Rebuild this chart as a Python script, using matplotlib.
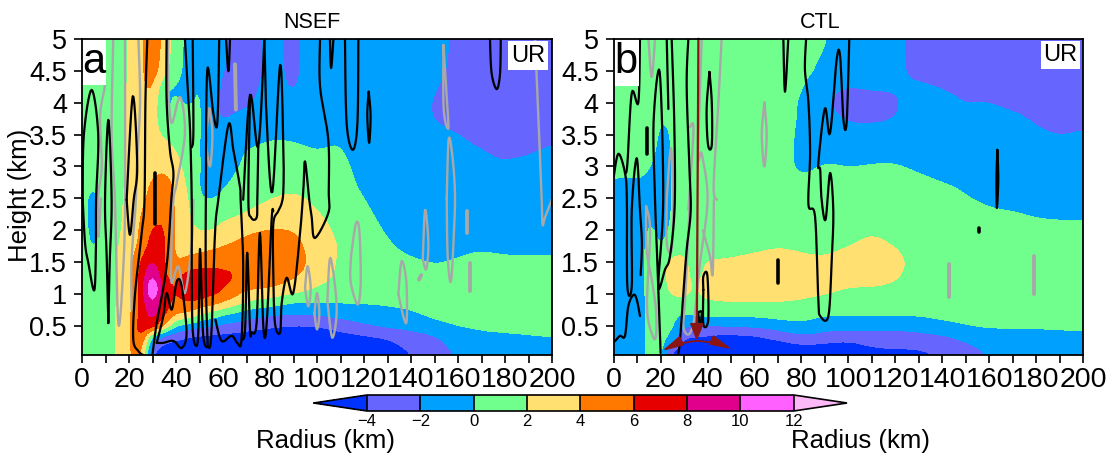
import numpy as np
import matplotlib
matplotlib.use("Agg")
import matplotlib.pyplot as plt
from matplotlib.patches import Rectangle

plt.rcParams["font.family"] = ["Liberation Sans", "DejaVu Sans"]

W, H = 1117, 457

levels = [-4, -2, 0, 2, 4, 6, 8, 10, 12]
band_colors = ["#0033ff", "#6666ff", "#00a0ff", "#70ff8c", "#ffe070", "#ff7800",
               "#e60000", "#e0008c", "#ff60ff", "#fdb8f8"]

heights = [0.05, 0.2, 0.35, 0.5, 0.7, 0.9, 1.1, 1.3, 1.5, 1.75, 2, 2.25, 2.5, 2.75, 3, 3.25,
           3.5, 3.75, 4, 4.25, 4.5, 5]

radius_a = [0, 5, 10, 15, 20, 25, 30, 35, 40, 45, 50, 55, 60, 70, 80, 90, 100, 110, 120, 130,
            140, 150, 160, 170, 180, 200]
ur_a = [
    [1, 1, 1.4, 2, 3.8, 5, -4.5, -5.5, -6, -6, -6, -6, -6, -6, -6.5, -6.5, -6.5, -6, -5.5, -5, -4.1, -2.8, -1.8, -1.4, -1.2, -1],
    [1, 1, 1.4, 2, 3.6, 6, -3, -4.3, -4.8, -5, -5.2, -5.2, -5.5, -5.5, -6, -6, -5.5, -5.3, -4.9, -4.5, -3.6, -2.4, -1.6, -1.1, -1, -.7],
    [1, 1, 1.4, 2, 3.4, 7, -.5, -2.5, -3.2, -3.9, -4.2, -4.3, -4.4, -4.8, -5.2, -5.2, -5, -4.6, -4.2, -3.8, -3, -2.1, -1.4, -.4, -.3, .2],
    [1, 1, 1.4, 2, 3.3, 7.5, 7.5, 3.9, -.5, -1, -1.6, -2.2, -2.5, -3.2, -3.8, -4.3, -4.2, -3.3, -2.3, -1.7, -1.2, -.6, .1, .4, .5, .6],
    [1, 1, 1.4, 2, 3.3, 6.5, 9, 6.5, 4.3, 4, 2.2, 1.3, .4, -1, -1.7, -1.9, -1.7, -1.1, -.9, -.6, -.3, .5, .7, .8, .8, .9],
    [1, 1, 1.4, 2, 3.2, 6.5, 11, 6.5, 5.8, 6.4, 6.3, 5.4, 4.8, 2, 1.5, .2, .2, .3, .3, .4, .7, 1, 1, 1, 1, 1],
    [1, 1, 1.4, 2, 3.2, 6.3, 13.5, 6.6, 5.8, 7, 7, 7, 6.3, 4.3, 4.2, 3.2, 1.8, 1.2, 1, 1, 1, 1, 1, 1, 1, 1],
    [1, 1, 1.4, 2, 3.2, 6.5, 10.5, 5.8, 5.5, 6.8, 7, 7.2, 6.7, 5.5, 5, 4.4, 3, 1.5, 1, 1, .9, .4, .8, 1, 1, 1],
    [1, 1, 1.4, 2, 3.1, 6.3, 8.5, 6, 3.9, 4.6, 5, 5, 5.2, 5.4, 5.6, 5, 3.2, 1.6, 1, 1, .4, -.1, .2, .4, .3, .3],
    [1, -.5, 1.2, 1.9, 2.6, 4.5, 7, 6.6, 3.2, 3, 3.3, 3.7, 4, 4.8, 5.2, 4.6, 3.2, 1.8, .9, .3, -.8, -1, -.4, -.1, -.4, -.4],
    [.8, -.8, 1, 1.8, 2.4, 4.3, 6.4, 6.2, 3.5, 2.5, 1.8, 1.8, 2.4, 3.7, 4.1, 4.1, 2.9, 1.4, .7, -.2, -1, -1, -1, -1, -1, -1],
    [.8, -1, 1, 1.7, 2.3, 4, 5, 6.1, 3.8, 2.1, 1.2, 1.2, 1.5, 2, 3, 3, 2.1, 1.2, .4, -.6, -1, -1, -1, -1, -1, -1],
    [.8, -1, 1, 1.7, 2.3, 3.7, 4.3, 5.1, 3.5, 2.2, -.1, -.2, .2, 1.3, 1.9, 2.4, 1.6, 1.1, 0, -1, -1, -1, -1, -1, -1, -1],
    [.9, .4, 1, 1.6, 2.2, 3.6, 4.1, 4.8, 3.6, 1.5, -.2, -.7, -.4, .9, 1.3, 1.5, 1.2, .9, -.6, -1, -1, -1, -1, -1, -1, -1],
    [1, 1, 1, 1.6, 2.2, 3.3, 3.5, 3.6, 2.6, 1.2, .1, -1, -.8, .3, .9, .9, .7, .6, -.8, -1, -1, -1.2, -1.3, -1.5, -1.9, -1.4],
    [1, 1, 1, 1.6, 2.2, 3.1, 3.3, 3.3, 2, 1, 0, -1, -1, .2, .5, .4, -.1, .3, -1.2, -1.1, -1.2, -1.4, -1.7, -1.9, -2.5, -1.8],
    [1, 1, 1, 1.5, 2.2, 3, 3, 1.5, .4, 1, .1, -1.1, -1.3, -1, -.2, -.3, -.6, -.1, -1, -1, -1.2, -1.6, -1.9, -2.5, -3, -2],
    [1, 1, 1, 1.5, 2.2, 3.2, 3.4, -.2, .2, 1, .3, -1.5, -2.3, -1.4, -1, -1, -1, -1, -1, -1, -1.4, -2.1, -2.6, -3, -3, -2.6],
    [1, 1, 1, 1.5, 2.1, 3.4, 3.6, -.5, .4, -.4, .3, -1.3, -2.5, -2.4, -1.2, -1.9, -1.1, -1, -1, -1, -1.4, -2.1, -2.8, -3, -3, -3],
    [1, 1, 1, 1.5, 2, 3.6, 4.6, -.2, -.2, -.6, .3, -1.2, -2.3, -2.8, -1.3, -2.4, -1.1, -1, -1, -1, -1.3, -1.9, -2.6, -3, -3, -3],
    [1, 1, 1, 1.5, 2, 3.6, 5.2, 3, .6, -.6, .3, -1.2, -1.9, -3, -1.4, -2.5, -1, -1, -1, -1, -1.2, -1.6, -2.4, -3, -3, -3],
    [1, 1, 1, 1.5, 2, 3.6, 5.4, 3.5, .8, -.6, .3, -1.3, -1.6, -3, -1.4, -2.6, -1, -1, -1, -1, -1.2, -1.6, -2.2, -3, -3, -3],
]

radius_b = [0, 5, 10, 15, 20, 25, 30, 35, 40, 45, 50, 60, 70, 80, 90, 100, 110, 120, 130, 140,
            150, 160, 170, 180, 190, 200]
ur_b = [
    [-.5, -1, -1.5, .8, .8, -5.2, -5.5, -5.5, -5.5, -5.5, -5.5, -5.5, -5.5, -5.5, -5.5, -5.5, -5, -4.7, -4.5, -3.9, -2.6, -1.9, -1.3, -1.2, -1.2, -1.2],
    [-.5, -1, -1.5, .8, 1, -2.5, -4.9, -5, -5, -5, -5.3, -5.3, -5, -4.2, -4.4, -4.6, -3.7, -3.6, -3.7, -3.1, -2.3, -1.6, -1, -1, -1, -1],
    [-.5, -1, -1.5, .8, .9, -.5, -3.9, -3.9, -4.1, -4.4, -4.5, -4.2, -3.2, -2, -2.8, -3.3, -3.1, -3, -2.6, -2.2, -1.4, -.7, -.5, -.6, -.3, -.3],
    [-.5, -1, -1.5, .8, .9, .4, -2, -2.1, -2.3, -2.3, -1.8, -1.9, -1.2, -.5, -1.2, -1.2, -1.2, -1.3, -1.1, -.6, -.1, .2, .1, .2, .2, .2],
    [-.5, -1, -1.5, .8, .9, .4, 0, .6, .8, .8, .7, .7, 1, 1, .2, .3, .3, .3, .3, .6, .8, .9, .8, .8, .9, .9],
    [-.5, -1, -1.5, .8, 1, 1.6, 1.8, 1.4, 1.6, 1.8, 2.1, 2.2, 2.1, 1.9, 1.5, 1.2, 1.1, 1, 1, 1, 1, 1, 1, 1, 1, 1],
    [-.5, -1, -1.5, .9, 1.1, 2.6, 2.8, 1.6, 3.8, 4.6, 3.1, 3.1, 3, 2.8, 2.5, 1.9, 1.9, 1.7, 1, 1, 1, 1, 1, 1, 1, 1],
    [-.5, -1, -1.5, 1, 1.1, 3, 2.6, 1.2, 2.5, 3, 3.1, 3.1, 3, 3, 3, 2.8, 2.9, 2.3, 1.2, 1, 1, 1, 1, 1, 1, 1],
    [-.5, -1, -1.5, 1, 1, 2.8, 2.2, 1.5, 2.1, 2.1, 2.1, 2.4, 2.5, 2.3, 2.2, 2.6, 2.9, 2.5, 1.4, 1, 1, 1, 1, 1, 1, 1],
    [-.5, -1, -1.5, .9, -.3, .9, 1.8, 1.3, 1.4, 1.5, 1.6, 1.7, 2, 1.8, 1.6, 2, 2.4, 2, 1.3, 1.2, 1.1, 1.1, 1, 1, 1, 1],
    [-.5, -1, -1.5, .5, -.5, .2, 1.2, 1.1, 1, 1, 1, 1.2, 1.3, 1.2, 1.1, 1.3, 2, 1.4, 1, 1, 1, 1, 1, .9, .8, .7],
    [-.5, -1, -1.3, -.3, -.7, .1, 1, 1, 1, 1, 1, 1, 1, 1, 1, 1, 1, 1, 1, 1, 1, .4, .3, -.3, -.5, -.5],
    [-.5, -1, -.8, -.5, -.8, 0, 1, 1, 1, 1, 1, 1, 1, 1, 1, 1, 1, 1, 1, .9, .1, -.5, -1, -1, -1, -1],
    [-.3, -.7, -.3, -.6, -.8, 0, 1, 1, 1, 1, 1, 1, 1, .1, .8, .7, .8, .9, .6, 0, -.4, -1, -1, -1, -1, -1],
    [1, 1, 1, .1, -.7, 0, 1, 1, 1, 1, 1, 1, .8, -.5, .2, -.1, .1, .2, -.4, -1, -1, -1, -1, -1, -1, -1],
    [1, 1, 1, .6, -.5, 0, 1, 1, 1, 1, 1, 1, 1, -.6, -.5, -.6, -.6, -.6, -1, -1, -1, -1, -1, -1, -1, -1],
    [1, 1, 1, .9, -.4, .1, 1, 1, 1, 1, 1, 1, 1, -.5, -1, -1.2, -1.4, -1.4, -1, -1, -1, -1.2, -1.3, -1.8, -2.2, -1.9],
    [1, 1, 1, 1, 0, .2, 1, 1, 1, 1, 1, 1, 1, -.3, -1.2, -2.4, -2.3, -2.1, -1.2, -1.3, -1.6, -1.6, -1.6, -2.2, -2.4, -2.3],
    [1, 1, 1, 1, .6, .4, 1, 1, 1, 1, 1, 1, 1, -.2, -2, -2.8, -2.6, -2.2, -1.4, -1.5, -2.1, -1.9, -2.4, -2.8, -3, -3],
    [1, 1, 1, 1, 1, 1, 1, 1, 1, 1, 1, 1, 1, .2, -1.5, -2.1, -1.8, -1.9, -1.8, -2.1, -2.4, -2.5, -3, -3, -3, -3],
    [1, 1, 1, 1, 1, 1, 1, 1, 1, 1, 1, 1, 1, .6, -.6, -1, -1, -1.7, -2.4, -2.5, -3, -3, -3, -3, -3, -3],
    [1, 1, 1, 1, 1, 1, 1, 1, 1, 1, 1, 1, 1, 1, .2, -.8, -1, -1.7, -2.5, -3, -3, -3, -3, -3, -3, -3],
]

# traced contours, (radius, height)
black_a = [
    [(.3, 2.48), (1.3, 1.8), (2.7, 1.49), (5.2, 1.06), (5.9, 1.7), (6, 2.48), (6.9, 3.5), (4.1, 4.2), (.8, 3.5), (.3, 2.48)],
    [(11.2, .55), (10.5, 1.6), (9.8, 2.48), (11.2, 3.73), (12.6, 2.48), (11.8, 1.5), (11.2, .55)],
    [(19, 2.48), (21.6, 4.1), (23.5, 3), (22, 2.48), (20.4, 1.93), (19, 2.48)],
    [(27.8, 5), (27, 4.04), (26.6, 2.48), (25.4, 1.96), (22.6, 1.02), (21.8, .3), (24, .11), (26, .05)],
    [(36, 5), (36, 4.04), (37.4, 3.26), (38.9, 2.9), (38, 2.48), (36, 1.44), (31.8, .55), (30, .06)],
    [(31.8, .24), (34.6, .24), (38.9, .27), (42.4, .16), (44.5, .4), (42.4, 1.13), (40.3, 1.2), (38.2, .76), (36, 1.02), (34.6, .66), (31.8, .24)],
    [(43.8, 5), (45, 4.2), (46, 3.55), (46.7, 2.48), (46.7, 1.44), (47, .5), (48.3, .2), (49.5, .4), (50.2, 1.71), (51.2, .6), (52, .25), (53.5, .18), (55, .35), (56.6, 1.96), (58, 2.48), (62.3, 3.65), (64.4, 3.26), (67.2, 2.69), (67.5, 2.48), (68.6, 1.44), (67.9, .29), (66.1, .24), (63.7, .35), (59.4, .27), (56.8, .6)],
    [(47.1, 5), (47.4, 3.55), (46.7, 3.3)],
    [(53.5, .18), (52.7, 1.2), (52.7, 2.48), (53.3, 4.51), (55.9, 3.83), (57.6, 3.69), (58.4, 5)],
    [(61.3, 5), (62.3, 4.49), (63, 5)],
    [(68.6, 2.48), (71.5, 4.12), (75, 3.31), (77.6, 5)],
    [(71.5, 4.12), (70.8, 2.48), (72, 2.2), (74.3, 2.2), (74.6, 2.48), (75, 3.31)],
    [(77.6, 5), (78.5, 3.8), (81, 2.6), (84.3, 4.59), (85.7, 3.26), (85.7, 2.64), (85, 2.43), (83.5, 2.3), (81.4, 2.1), (81.4, 1.33), (82.1, .55), (84.3, .4), (85, .87), (87.1, 1.26), (89.9, 1.02), (92.8, 1.96), (94.2, 2.64), (94.9, 3.08), (96.7, 2.48), (97.7, 2.22), (99.1, 1.88), (104.8, 2.27), (105, 2.6), (104.8, 3.42), (101.3, 4.25), (101.3, 5)],
    [(67.9, .29), (69.4, .45), (70.3, 1.65), (71.5, .45), (72.2, .4), (74.3, .55), (75.7, 1.96), (77.2, .47), (78.6, .55), (80.7, 2.17), (81.4, 2.3)],
    [(105.5, 5), (106, 4.54), (107, 5)],
    [(111.9, 5), (112.6, 3.68), (115.2, 3.26), (117.2, 3.68), (117.6, 5)],
    [(122, 4.17), (121.4, 3.8), (122.2, 3.37), (122.8, 3.8), (122, 4.17)],
    [(173.6, 5), (174.3, 4.46), (176.5, 4.21), (177.9, 4.46), (178.2, 5)],
]
thick_a = [[(31, 2.9), (31, 2.1)]]
gray_a = [
    [(7.6, 5), (8.2, 4.6), (9.8, 4.3), (7.7, 3.8), (8.4, 3), (6.8, 2.5), (7, 1.9), (8, 2.5)],
    [(13.3, 5), (12.6, 3.5), (14, 2.48), (15.5, .53), (17.6, 1.44), (18.3, 2.48), (18.3, 5)],
    [(24, 5), (24.7, 4), (23.3, 3), (22.8, 2.4), (21.1, 1.54), (21.1, .76)],
    [(36.7, 5), (36.7, 4.3), (38.1, 3.68), (41.7, 4.09), (43.8, 3.52), (40.3, 2.74), (38.9, 2.48), (38.1, 1.8), (38.1, 1.18), (41, 1.44), (43.8, 1.02), (46.7, 1.8), (47.4, 2.48)],
    [(54.2, 3.91), (52.8, 3.42), (54.5, 3), (55.5, 3.52), (54.2, 3.91)],
    [(94.9, 1.1), (96, 1.44), (97.3, 1.1), (96.3, .81), (94.9, 1.1)],
    [(98.9, .7), (100, 1.02), (101, .7), (100, .45), (98.9, .7)],
    [(104.4, .9), (105.7, 1.57), (108.4, .8), (106.5, .32), (104.4, .9)],
    [(114.5, 1.6), (116.5, 2.1), (118, 2), (118.6, 1.2), (117.3, .84), (114.3, 1.2), (114.5, 1.6)],
    [(134.6, 1), (136, 1.52), (138, 1.2), (138.2, .6), (137, .62), (134.6, 1)],
    [(145, 1.55), (146, 2.32), (147.4, 1.8), (146.5, 1.39), (145, 1.55)],
    [(155.2, 2.5), (155.6, 1.6), (157, 1.2), (158.3, 2), (158.7, 2.6), (157.5, 3.2), (156, 3.42), (155.2, 2.5)],
    [(153.8, 4.9), (155, 4.2), (155.9, 3.6), (153.9, 3.9), (153.8, 4.9)],
    [(192.8, 5), (194.5, 3.5), (195.6, 2.48), (196, 2.09), (197, 2.2), (199.9, 2.48)],
]
gray_thick_a = [[(65.1, 4.6), (65.5, 3.89)], [(143.4, 1.23), (144.3, 1.3)], [(164, 2.3), (164, 1.96)], [(165.2, 1.49), (165.2, 1.05)]]

black_b = [
    [(0, 2.84), (2, 3.2), (4.8, 2.9), (5.6, 2.48), (5.8, 1.13), (7.7, 1.13), (7.7, 2.32), (9.8, 3.13), (11.2, 2.32), (12, 1.8), (11.5, 1.3)],
    [(4.8, 2.9), (5.8, 3.03), (7.7, 4.15), (10.5, 4), (11.2, 5)],
    [(0, .27), (.6, .27), (2.7, .35), (4.8, .35), (6.2, .81), (8.4, .99), (9.8, .92), (11.2, .66)],
    [(24.7, 5), (25.8, 3.7), (26, 2.4), (24, 1.6), (21.9, 1.39), (19, 1.13), (21.1, 2.48), (19.6, 4.48), (17, 3.7), (17.6, 2.5), (18.6, 1.5), (20, .08)],
    [(22.6, 5), (23.3, 3.9)],
    [(31.8, 5), (31.1, 4.25), (32.3, 2.95), (32.8, 2.3), (31.1, 1.7), (29.7, 1.02), (28.3, .3), (27.6, .08)],
    [(40.8, 4.48), (39.6, 3.9), (40.2, 3.34), (41.8, 3.34), (41.8, 4), (40.8, 4.48)],
    [(38.2, 1.07), (38.2, .53), (40.3, .6), (39.9, 1.3), (38.2, 1.28), (38.2, 1.07)],
    [(36, .72), (37.5, .72), (36.8, .52), (36, .72)],
    [(72.3, 5), (73, 4.17), (74.4, 5)],
    [(82, 5), (81.5, 4.51), (83, 4), (83.7, 3.2), (83, 2.4), (85.8, 2.22), (87.2, .92), (88, .66), (91.5, .66), (92.9, 1.54), (93.6, 2.3), (92.2, 2.9), (90.3, 2.17), (88.6, 2.48), (88, 2.95), (87.2, 3.05), (90, 3.91), (92.2, 3.52), (95, 4.67), (96.5, 4.72), (97.9, 3.73), (99.3, 3.7), (100.4, 5)],
    [(163.5, 3.26), (163.1, 2.8), (163.3, 2.35), (163.9, 2.8), (163.5, 3.26)],
]
thick_b = [[(14, 3.6), (14, 3.2)], [(70.2, 1.54), (70.2, 1.18)], [(155.5, 2.03), (155.5, 1.97)]]
gray_b = [
    [(14.8, 5), (16.2, 4.4), (17.6, 5)],
    [(13.8, 2.38), (15.5, 2), (14.2, .8), (16.6, .35), (18, .35), (18, .76), (16.2, 1.23), (14, 1.7), (13.8, 2.38)],
    [(22.6, 2.48), (22.6, 1.8), (24.7, 1.7), (25.4, 2.48), (24.7, 3.2), (24, 3.2), (22.6, 2.5)],
    [(32.5, 2.48), (30.4, .92), (29.7, .5), (31.8, .37), (34, .55), (35.4, 1), (36.8, 1.5), (40, 2.48), (37.5, 3.2), (36, 3.2), (37.5, 5)],
    [(42.7, 2.48), (42.2, 1.33), (41, 1.6), (38, 2)],
    [(44, 2.48), (42.6, 2.7), (44.6, 4), (46, 5)],
    [(32.5, 3.62), (34, 3.57), (31.8, 2.32)],
    [(64.2, 4), (63.1, 3.5), (64.2, 3), (65.2, 3.5), (64.2, 4)],
]
gray_thick_b = [[(143, 1.47), (143, .96)], [(179, 1.6), (179, 1)]]

vector_tail = (36.1, 5)
vector_center = (35.4, .27)
vector_left = (20.5, .11)
vector_right = (50.3, .14)

x_ticks = list(range(0, 201, 10))
x_labels = [str(t) if t % 20 == 0 else "" for t in x_ticks]
y_ticks = [.5, 1, 1.5, 2, 2.5, 3, 3.5, 4, 4.5, 5]
y_labels = ["0.5", "1", "1.5", "2", "2.5", "3", "3.5", "4", "4.5", "5"]


def smooth(points, steps=8):
    # catmull-rom through the traced points so peaks stay where they were read
    pts = np.array(points, dtype=float)
    if len(pts) < 3:
        return pts
    p = np.vstack([pts[0], pts, pts[-1]])
    out = [pts[0]]
    for i in range(1, len(p) - 2):
        for t in np.linspace(0, 1, steps + 1)[1:]:
            out.append(0.5 * (2 * p[i] + (p[i + 1] - p[i - 1]) * t
                              + (2 * p[i - 1] - 5 * p[i] + 4 * p[i + 1] - p[i + 2]) * t ** 2
                              + (3 * p[i] - p[i - 1] - 3 * p[i + 1] + p[i + 2]) * t ** 3))
    return np.array(out)


def refine(radius, values, factor=4, passes=4):
    # finer grid with a light 1-2-1 filter, the source field has no sharp grid corners
    values = np.array(values, dtype=float)
    ny, nx = values.shape
    ix = np.linspace(0, nx - 1, (nx - 1) * factor + 1)
    iy = np.linspace(0, ny - 1, (ny - 1) * factor + 1)
    fine = np.array([np.interp(ix, np.arange(nx), row) for row in values])
    fine = np.array([np.interp(iy, np.arange(ny), col) for col in fine.T]).T
    for _ in range(passes):
        pad = np.pad(fine, 1, mode="edge")
        fine = (pad[:-2, 1:-1] + 2 * pad[1:-1, 1:-1] + pad[2:, 1:-1]) / 4
        pad = np.pad(fine, 1, mode="edge")
        fine = (pad[1:-1, :-2] + 2 * pad[1:-1, 1:-1] + pad[1:-1, 2:]) / 4
    return np.interp(ix, np.arange(nx), radius), np.interp(iy, np.arange(ny), heights), fine


def axes_box(left, top, right, bottom):
    return [left / W, 1 - bottom / H, (right - left) / W, (bottom - top) / H]


def draw_lines(ax, lines, color, lw):
    for line in lines:
        pts = smooth(line)
        ax.plot(pts[:, 0], pts[:, 1], color=color, lw=lw, solid_joinstyle="round",
                solid_capstyle="round", zorder=3)


def draw_panel(box, radius, values, black, thick, gray, gray_thick, letter_box, ur_box):
    ax = fig.add_axes(axes_box(*box))
    xf, yf, vf = refine(radius, values)
    cf = ax.contourf(xf, yf, vf, levels=levels, colors=band_colors, extend="both")
    draw_lines(ax, gray, "#a8a8a8", 1.7)
    draw_lines(ax, gray_thick, "#a8a8a8", 2.8)
    draw_lines(ax, black, "black", 1.6)
    draw_lines(ax, thick, "black", 2.6)
    ax.set_xlim(0, 200)
    ax.set_ylim(0.05, 5)
    ax.set_xticks(x_ticks)
    ax.set_xticklabels(x_labels, fontsize=20.5)
    ax.set_yticks(y_ticks)
    ax.set_yticklabels(y_labels, fontsize=19.5)
    ax.tick_params(axis="both", length=5.8, width=1.2, direction="out")
    ax.tick_params(axis="x", pad=3)
    ax.tick_params(axis="y", pad=5)
    for spine in ax.spines.values():
        spine.set_linewidth(1.3)
        spine.set_zorder(6)
    for (r0, z0, r1, z1), text, size in [(letter_box[0], letter_box[1], 30), (ur_box[0], ur_box[1], 17)]:
        ax.add_patch(Rectangle((r0, z0), r1 - r0, z1 - z0, facecolor="white", edgecolor="none", zorder=5))
        ax.text((r0 + r1) / 2, (z0 + z1) / 2, text, fontsize=size, ha="center", va="center", zorder=6)
    return ax, cf


fig = plt.figure(figsize=(W / 100, H / 100), dpi=100)

ax_a, cf_a = draw_panel((82, 38.7, 552, 355), radius_a, ur_a, black_a, thick_a, gray_a, gray_thick_a,
                        ((0, 4.28, 10.2, 5), "a"), ((181.3, 4.51, 198.3, 4.96), "UR"))
ax_b, cf_b = draw_panel((613.7, 38.7, 1083, 355), radius_b, ur_b, black_b, thick_b, gray_b, gray_thick_b,
                        ((0, 4.26, 10.8, 5), "b"), ((182, 4.53, 198.7, 4.97), "UR"))

# dark red wind vectors in panel b
red = "#8b1414"
ax_b.annotate("", xy=vector_center, xytext=vector_tail, zorder=4,
              arrowprops=dict(arrowstyle="-|>,head_length=1.0,head_width=0.4", color=red, lw=1.6, shrinkA=0, shrinkB=0))
for tip, rad in [(vector_left, .1), (vector_right, -.1)]:
    ax_b.annotate("", xy=tip, xytext=vector_center, zorder=4,
                  arrowprops=dict(arrowstyle="-|>,head_length=1.3,head_width=0.3", color=red, lw=1.3,
                                  shrinkA=0, shrinkB=0, connectionstyle=f"arc3,rad={rad}"))

fig.text(312 / W, 1 - 22 / H, "NSEF", fontsize=15.5, ha="center", va="center")
fig.text(820 / W, 1 - 22 / H, "CTL", fontsize=15.5, ha="center", va="center")
fig.text(20 / W, 1 - 195 / H, "Height (km)", fontsize=18.5, rotation=90, ha="center", va="center")
fig.text(325 / W, 1 - 441 / H, "Radius (km)", fontsize=18.5, ha="center", va="center")
fig.text(861 / W, 1 - 441 / H, "Radius (km)", fontsize=18.5, ha="center", va="center")

cax = fig.add_axes(axes_box(313.7, 395, 847, 411))
cbar = fig.colorbar(cf_a, cax=cax, orientation="horizontal", extend="both", extendfrac=0.125,
                    drawedges=True, ticks=levels, spacing="uniform")
cbar.outline.set_linewidth(1.2)
cbar.dividers.set_linewidth(1.2)
cax.tick_params(length=0, pad=2, labelsize=12)

fig.savefig("out.png", dpi=100)
